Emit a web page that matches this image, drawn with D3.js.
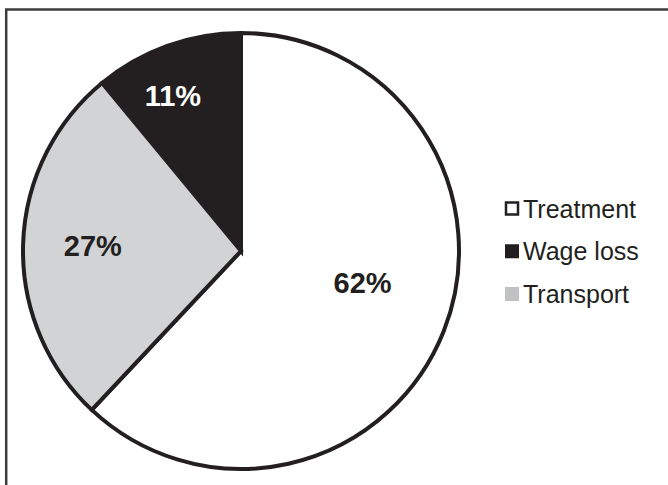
<!DOCTYPE html>
<html>
<head>
<meta charset="utf-8">
<script src="https://cdn.jsdelivr.net/npm/d3@7"></script>
<style>
  html, body { margin: 0; padding: 0; background: #fff; }
  svg { display: block; }
</style>
</head>
<body>
<svg id="chart" width="668" height="485"></svg>
<script>
// Data (legend order)
const categories = ["Treatment", "Wage loss", "Transport"];
const values = [62, 11, 27];
const labels = ["62%", "11%", "27%"];
// Order in which slices are drawn clockwise from 12 o'clock
const drawOrder = ["Treatment", "Transport", "Wage loss"];

const fills = { "Treatment": "#ffffff", "Wage loss": "#231f20", "Transport": "#d1d3d4" };
const labelColors = { "Treatment": "#231f20", "Wage loss": "#ffffff", "Transport": "#231f20" };
// label placement: radius fraction along slice bisector, plus nudge
const labelRadius = { "Treatment": 0.6, "Wage loss": 0.76, "Transport": 0.68 };
const labelNudge = { "Treatment": [0, -17], "Wage loss": [-12, 0], "Transport": [0, -1] };

const svg = d3.select("#chart");
const W = 668, H = 485;

// outer frame (right/bottom edges fall outside the canvas)
svg.append("rect")
  .attr("x", 6.2).attr("y", 9.5)
  .attr("width", 700).attr("height", 500)
  .attr("fill", "none").attr("stroke", "#3c3c3c").attr("stroke-width", 2.5);

const cx = 241, cy = 251, R = 218;
const data = categories.map((c, i) => ({ cat: c, value: values[i], label: labels[i] }));

const pie = d3.pie()
  .value(d => d.value)
  .sort((a, b) => drawOrder.indexOf(a.cat) - drawOrder.indexOf(b.cat));
const arcs = pie(data);
const arc = d3.arc().innerRadius(0).outerRadius(R);

const g = svg.append("g").attr("transform", `translate(${cx},${cy})`);
g.selectAll("path.slice")
  .data(arcs)
  .join("path")
  .attr("class", "slice")
  .attr("d", arc)
  .attr("fill", d => fills[d.data.cat])
  .attr("stroke", "#231f20")
  .attr("stroke-width", 4)
  .attr("stroke-linejoin", "miter");

g.selectAll("text.lbl")
  .data(arcs)
  .join("text")
  .attr("class", "lbl")
  .attr("transform", d => {
    const r = R * labelRadius[d.data.cat];
    const c = d3.arc().innerRadius(r).outerRadius(r).centroid(d);
    const n = labelNudge[d.data.cat];
    return `translate(${c[0] + n[0]},${c[1] + n[1] + 10.5})`;
  })
  .attr("text-anchor", "middle")
  .attr("font-family", "Liberation Sans, Arial, sans-serif")
  .attr("font-weight", "bold")
  .attr("font-size", 29)
  .attr("fill", d => labelColors[d.data.cat])
  .text(d => d.data.label);

// legend
const legend = svg.append("g").attr("transform", "translate(505,0)");
const legY = d3.scalePoint().domain(categories).range([208.5, 294]);
const item = legend.selectAll("g.item")
  .data(categories)
  .join("g")
  .attr("class", "item")
  .attr("transform", c => `translate(0,${legY(c)})`);
item.append("rect")
  .attr("x", c => c === "Treatment" ? 1 : 0)
  .attr("y", c => c === "Treatment" ? -6 : -7)
  .attr("width", c => c === "Treatment" ? 12 : 14)
  .attr("height", c => c === "Treatment" ? 12 : 14)
  .attr("fill", c => c === "Transport" ? "#bfc1c3" : fills[c])
  .attr("stroke", c => c === "Treatment" ? "#231f20" : "none")
  .attr("stroke-width", 2.5);
item.append("text")
  .attr("x", 18)
  .attr("y", 9)
  .attr("font-family", "Liberation Sans, Arial, sans-serif")
  .attr("font-size", 25)
  .attr("fill", "#231f20")
  .text(c => c);
</script>
</body>
</html>
